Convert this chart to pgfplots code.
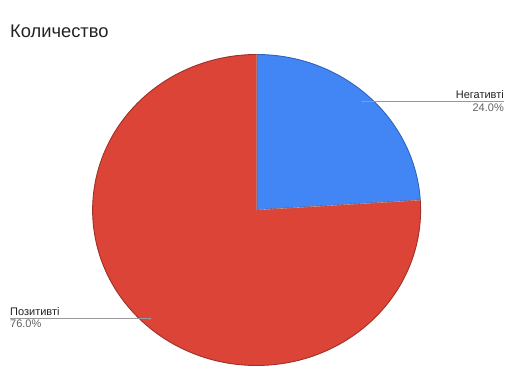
\documentclass[border=0pt]{standalone}
\usepackage{pgfplots}
\usepackage{pgfplotstable}
\pgfplotsset{compat=1.18}
\usepackage{fontspec}
\setmainfont{Liberation Sans}
\definecolor{pblue}{HTML}{4285F4}
\definecolor{pred}{HTML}{DB4437}
\definecolor{lead}{HTML}{999999}
\definecolor{txt}{HTML}{222222}
\definecolor{pct}{HTML}{616161}
\pgfplotstableread{
label value
Негативті 24
Позитивті 76
}\piedata
\begin{document}
\begin{tikzpicture}[x=1pt,y=1pt]
\useasboundingbox (0,0) rectangle (518,379);
\node[anchor=base west, font=\fontsize{18.3}{20}\selectfont, text=txt, inner sep=0] at (10,341) {Количество};
\pgfplotstablegetelem{0}{value}\of\piedata \let\va\pgfplotsretval
\pgfplotstablegetelem{1}{value}\of\piedata \let\vb\pgfplotsretval
\pgfmathsetmacro{\aa}{\va/(\va+\vb)*360}
\pgfmathsetmacro{\ea}{90-\aa}
\pgfmathsetmacro{\ex}{cos(\ea)}
\pgfmathsetmacro{\ey}{sin(\ea)}
\begin{axis}[at={(256.6pt,169pt)}, anchor=origin, scale only axis,
  width=328pt, height=311pt, xmin=-1, xmax=1, ymin=-1, ymax=1,
  hide axis, clip=false]
\fill[pblue, draw=pblue!75!black, line width=0.9pt] (axis cs:0,0) -- (axis cs:0,1)
  arc[start angle=90, end angle=\ea, x radius=1, y radius=1] -- cycle;
\fill[pred, draw=pred!72!black, line width=0.9pt] (axis cs:0,0) -- (axis cs:\ex,\ey)
  arc[start angle=\ea, end angle=-270, x radius=1, y radius=1] -- cycle;
\draw[white, opacity=0.5, line width=0.6pt] (axis cs:0,1) -- (axis cs:0,0) -- (axis cs:\ex,\ey);
\end{axis}
\draw[lead, line width=0.8pt] (363,277.5) -- (504,277.5);
\fill[lead] (363,277.5) circle (1.2);
\node[anchor=base east, font=\fontsize{11}{12}\selectfont, text=txt, inner sep=0] at (504,280.7) {Негативті};
\node[anchor=base east, font=\fontsize{11}{12}\selectfont, text=pct, inner sep=0] at (504,267.3) {24.0\%};
\draw[lead, line width=0.8pt] (10,60.3) -- (150,60.3);
\fill[lead] (150,60.3) circle (1.2);
\node[anchor=base west, font=\fontsize{11}{12}\selectfont, text=txt, inner sep=0] at (10,63.3) {Позитивті};
\node[anchor=base west, font=\fontsize{11}{12}\selectfont, text=pct, inner sep=0] at (10,51) {76.0\%};
\end{tikzpicture}
\end{document}
